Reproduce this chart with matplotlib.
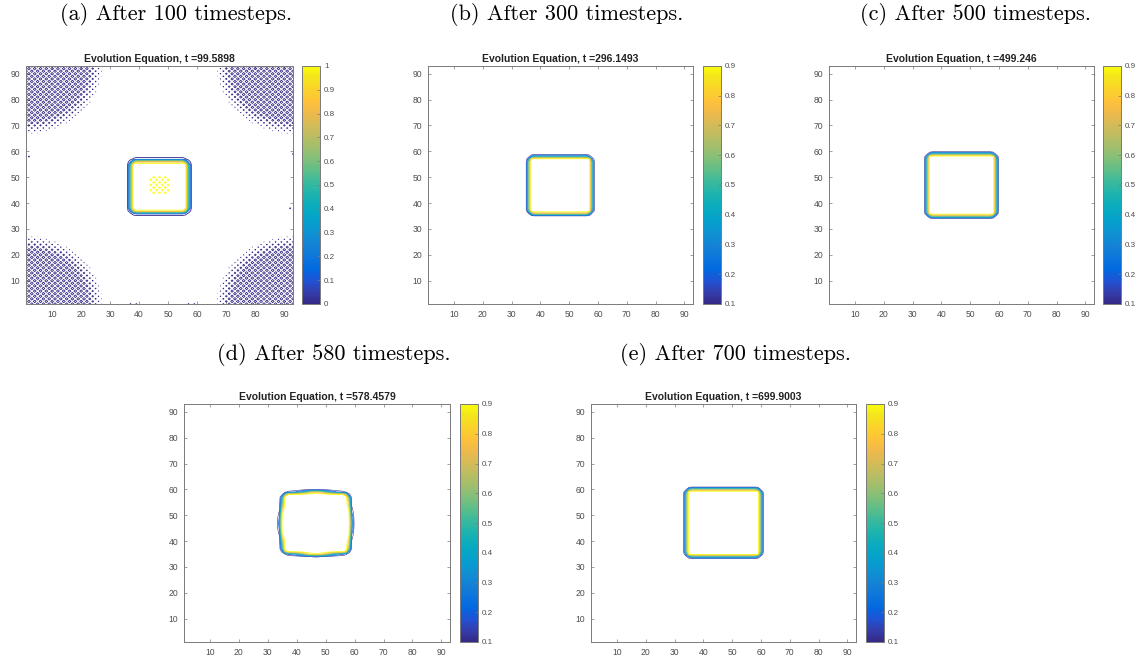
import numpy as np
import matplotlib
matplotlib.use("Agg")
import matplotlib.pyplot as plt
from matplotlib.colors import LinearSegmentedColormap, Normalize
from matplotlib.cm import ScalarMappable

# ---------------- data ----------------
captions = ["(a) After 100 timesteps.", "(b) After 300 timesteps.",
            "(c) After 500 timesteps.", "(d) After 580 timesteps.",
            "(e) After 700 timesteps."]
times = ["99.5898", "296.1493", "499.246", "578.4579", "699.9003"]
# square (0.5 level) centre and half sizes
sq_cx = [46.95, 46.9, 47.0, 46.6, 47.0]
sq_cy = [46.4, 46.85, 46.95, 46.9, 47.1]
sq_hx = [9.95, 11.0, 12.0, 11.5, 13.0]
sq_hy = [9.9, 11.05, 12.05, 11.5, 13.0]
sq_bulge = [0.0, 0.0, 0.0, 0.8, 0.0]
clim_lo = [0.0, 0.1, 0.1, 0.1, 0.1]
clim_hi = [1.0, 0.9, 0.9, 0.9, 0.9]
ticks_a = [0, 0.1, 0.2, 0.3, 0.4, 0.5, 0.6, 0.7, 0.8, 0.9, 1]
ticks_b = [0.1, 0.2, 0.3, 0.4, 0.5, 0.6, 0.7, 0.8, 0.9]
axis_ticks = [10, 20, 30, 40, 50, 60, 70, 80, 90]
# corner oscillation regions of panel (a): dense radius / fade radius
corner_dense_r = 21.0
corner_fade_r = 26.5
centre_osc_half = 3
# small edge spots in panel (a) (x, y)
edge_spots = [(1, 58), (1, 37), (93, 59), (93, 38), (37, 1), (39, 1), (57, 1),
              (59, 1), (37, 93), (57, 93)]

# layout in pixels: axes left, right, top, bottom ; colorbar left
panel_px = [(26, 293, 66, 304, 302), (428, 693, 66, 304, 703),
            (829, 1094, 66, 304, 1103), (184, 450, 404, 642, 460),
            (591, 856, 404, 642, 866)]
caption_px = [(176, 14), (567, 14), (976, 14), (334, 354), (736, 354)]

parula_pts = [
    (0.2081, 0.1663, 0.5292), (0.2081, 0.2386, 0.6771), (0.1253, 0.3242, 0.8303),
    (0.0060, 0.4086, 0.8828), (0.0499, 0.4586, 0.8641), (0.0779, 0.5040, 0.8384),
    (0.0641, 0.5570, 0.8240), (0.0265, 0.6137, 0.8135), (0.0228, 0.6535, 0.7768),
    (0.0590, 0.6838, 0.7254), (0.1453, 0.7098, 0.6646), (0.2586, 0.7317, 0.5954),
    (0.3953, 0.7459, 0.5244), (0.5300, 0.7491, 0.4661), (0.6473, 0.7456, 0.4188),
    (0.7525, 0.7384, 0.3768), (0.8507, 0.7299, 0.3360), (0.9450, 0.7261, 0.2886),
    (0.9990, 0.7653, 0.2164), (0.9788, 0.8271, 0.1633), (0.9589, 0.8949, 0.1132),
    (0.9763, 0.9831, 0.0538)]
parula = LinearSegmentedColormap.from_list("parula", parula_pts, N=256)

# ---------------- field construction ----------------
n = 93
g = np.arange(1, n + 1)
X, Y = np.meshgrid(g, g)
I, J = np.meshgrid(np.arange(n), np.arange(n))
checker = (-1.0) ** (I + J)


def box_sdf(cx, cy, hx, hy, rc=2.0, bulge=0.0):
    qx = np.abs(X - cx) - (hx - rc)
    qy = np.abs(Y - cy) - (hy - rc)
    d = np.hypot(np.maximum(qx, 0), np.maximum(qy, 0)) + np.minimum(np.maximum(qx, qy), 0) - rc
    if bulge:
        th = np.arctan2(Y - cy, X - cx)
        d = d - bulge * np.cos(2 * th) ** 2
    return d


def profile(d, w_out=0.6, w_in=0.4):
    w = np.where(d > 0, w_out, w_in)
    return 0.5 * (1 + np.tanh(-d / w))


fields = []
for k in range(5):
    d = box_sdf(sq_cx[k], sq_cy[k], sq_hx[k], sq_hy[k], bulge=sq_bulge[k])
    s = profile(d)
    if k == 0:
        lo, hi = -0.04, 1.06
        U = lo + (hi - lo) * s
        A = 0.04
        # corners
        for (ccx, ccy) in [(1, 1), (1, n), (n, 1), (n, n)]:
            r = np.hypot(X - ccx, Y - ccy)
            ramp = np.clip((r - corner_dense_r) / (corner_fade_r - corner_dense_r), 0, 1)
            m = r < corner_fade_r
            U = np.where(m, A * checker - 0.001 - 0.04 * ramp, U)
        # centre oscillation
        mc = (np.abs(X - 47) <= centre_osc_half) & (np.abs(Y - 47) <= centre_osc_half)
        U = np.where(mc, 1.0 + 0.04 * checker + 0.01, U)
        for (ex, ey) in edge_spots:
            me = (np.abs(X - ex) <= 1) & (np.abs(Y - ey) <= 0)
            U = np.where(me & (checker > 0), 0.01, U)
    else:
        U = s
    fields.append(U)

# ---------------- drawing ----------------
W, H = 1146, 663
fig = plt.figure(figsize=(W / 100, H / 100), dpi=100)
gray = "#7a7a7a"
tcol = "#4d4d4d"

for k in range(5):
    l, r, t, b, cl = panel_px[k]
    ax = fig.add_axes([l / W, 1 - b / H, (r - l) / W, (b - t) / H])
    lo, hi = clim_lo[k], clim_hi[k]
    levels = np.round(np.arange(lo, hi + 1e-9, 0.1), 2)
    norm = Normalize(lo, hi)
    lws = [0.6 if k == 0 else 0.4] + [0.55] * (len(levels) - 1)
    ax.contour(X, Y, fields[k], levels=levels, cmap=parula, norm=norm,
               linewidths=lws)
    ax.set_xlim(1, 93)
    ax.set_ylim(1, 93)
    ax.set_xticks(axis_ticks)
    ax.set_yticks(axis_ticks)
    ax.tick_params(direction="in", length=2.5, width=0.5, colors=gray,
                   labelcolor=tcol, labelsize=6.2, top=True, right=True, pad=4)
    for sp in ax.spines.values():
        sp.set_color(gray)
        sp.set_linewidth(0.7)
    for lab in ax.get_xticklabels() + ax.get_yticklabels():
        lab.set_fontfamily("Liberation Sans")
    ax.set_title("Evolution Equation, t =" + times[k], fontsize=7.5,
                 fontweight="bold", family="Liberation Sans", color="#222222", pad=3)

    cax = fig.add_axes([cl / W, 1 - b / H, 18 / W, (b - t) / H])
    cb = fig.colorbar(ScalarMappable(norm=norm, cmap=parula), cax=cax,
                      ticks=ticks_a if k == 0 else ticks_b)
    cb.ax.set_yticklabels([("%g" % v) for v in (ticks_a if k == 0 else ticks_b)])
    cb.outline.set_edgecolor(gray)
    cb.outline.set_linewidth(0.7)
    cb.ax.tick_params(direction="in", length=2.5, width=0.5, colors=gray,
                      labelcolor=tcol, labelsize=5.8, pad=3)
    for lab in cb.ax.get_yticklabels():
        lab.set_fontfamily("Liberation Sans")

    cxp, cyp = caption_px[k]
    fig.text(cxp / W, 1 - cyp / H, captions[k], ha="center", va="center",
             fontsize=16, family="cmr10")

fig.savefig("out.png", dpi=100)
